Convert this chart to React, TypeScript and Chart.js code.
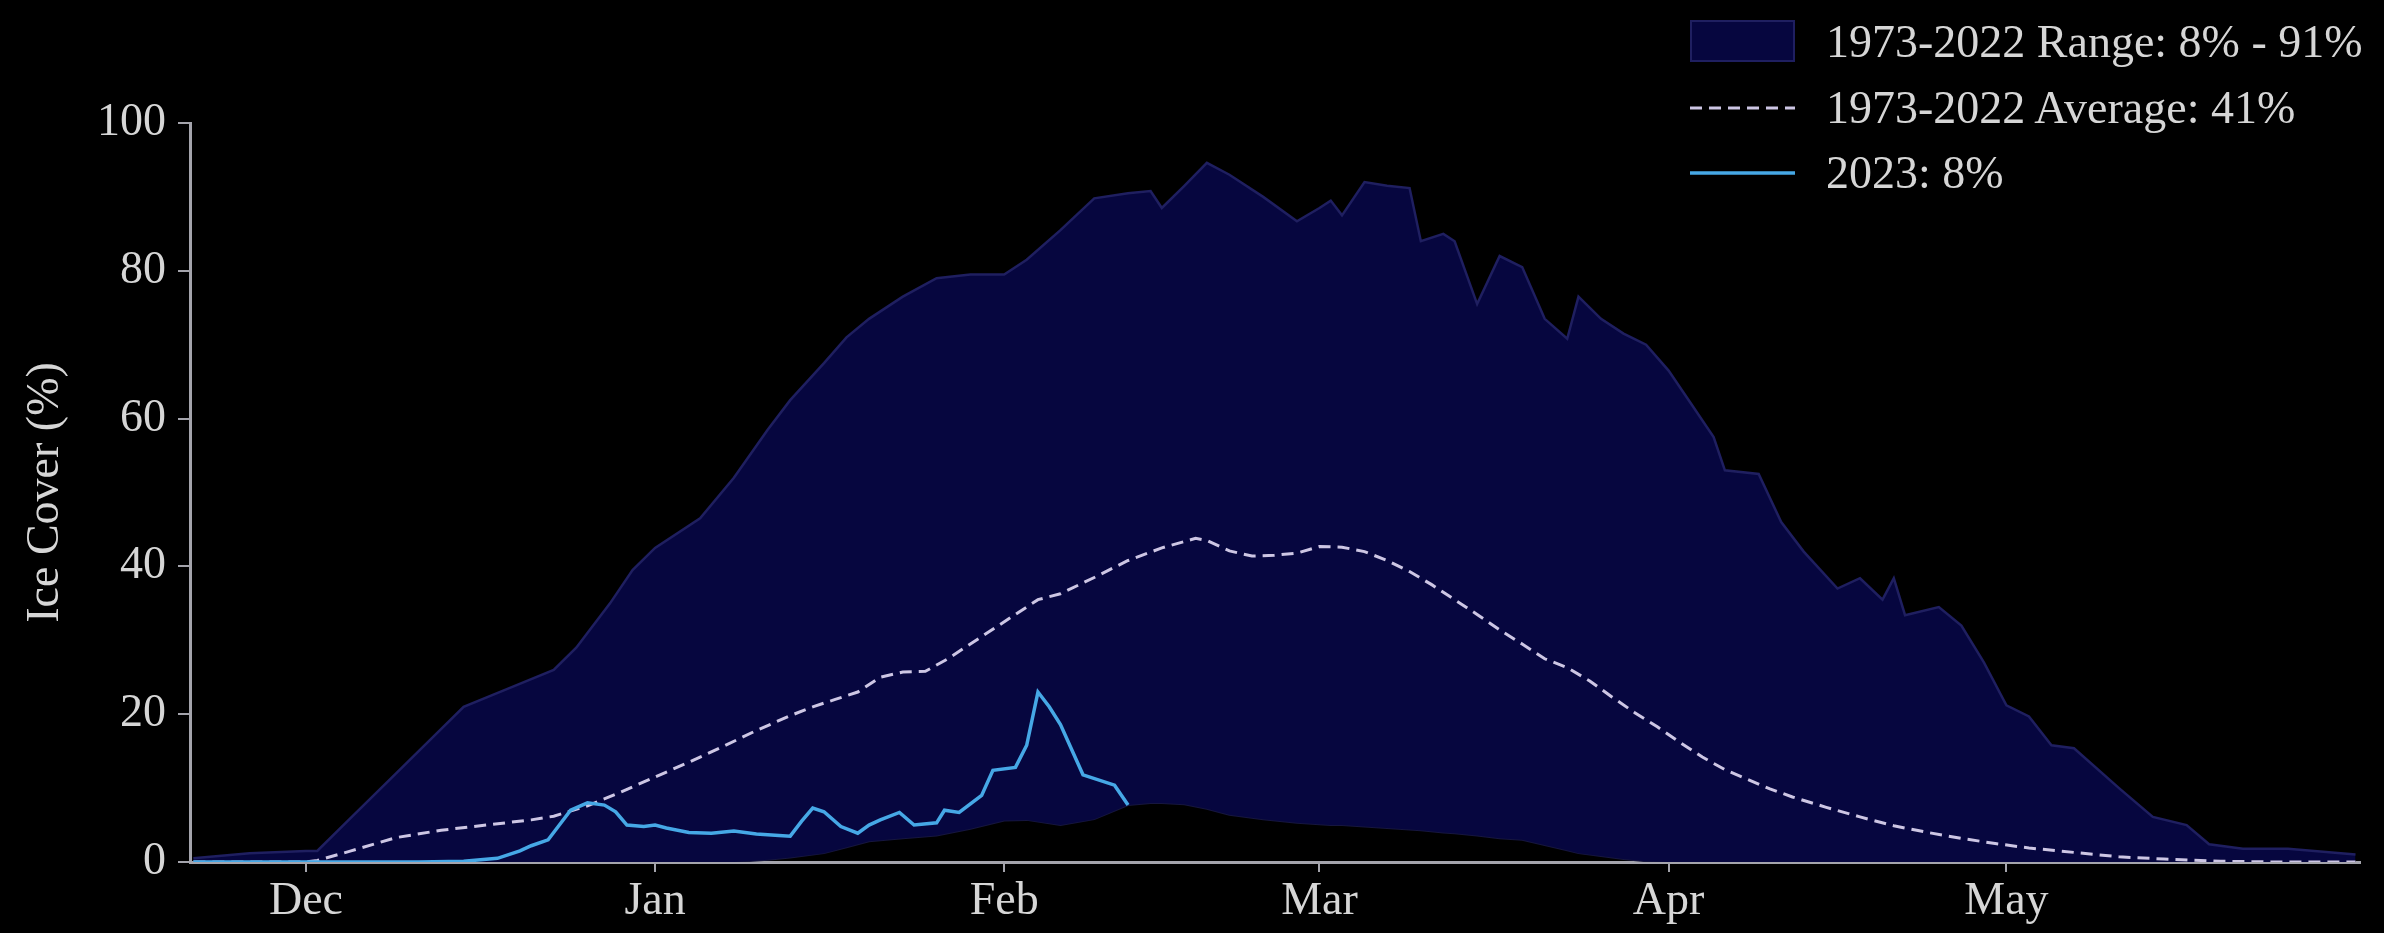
import { useEffect, useRef } from 'react';
import { Chart, registerables } from 'chart.js';

Chart.register(...registerables);

// days are counted from Dec 1 (Jan 1 = 31, Feb 1 = 62, Mar 1 = 90, Apr 1 = 121, May 1 = 151)
const monthTicks = [0, 31, 62, 90, 121, 151];
const monthLabels = ['Dec', 'Jan', 'Feb', 'Mar', 'Apr', 'May'];

const rangeDays = [
  -10, -5, 0, 1, 4, 8, 11, 14, 18, 22, 24, 27, 29, 31, 35, 38, 41, 43, 46, 48, 50, 53, 56, 59, 62, 64,
  67, 70, 73, 75, 76, 78, 80, 82, 85, 88, 90, 91, 92, 94, 96, 98, 99, 101, 102, 104, 106, 108, 110,
  112, 113, 115, 117, 119, 121, 123, 125, 126, 129, 131, 133, 136, 138, 140, 141, 142, 145, 147, 149,
  151, 153, 155, 157, 161, 164, 167, 169, 172, 176, 182,
];
const rangeUpper = [
  0.5, 1.2, 1.5, 1.5, 6, 12, 16.5, 21, 23.5, 26, 29, 35, 39.5, 42.5, 46.5, 52, 58.5, 62.5, 67.5, 71,
  73.5, 76.5, 79, 79.5, 79.5, 81.5, 85.5, 89.8, 90.5, 90.8, 88.5, 91.5, 94.6, 93, 90, 86.7, 88.5, 89.5,
  87.5, 92, 91.5, 91.2, 84, 85, 84, 75.5, 82, 80.5, 73.5, 70.8, 76.5, 73.5, 71.5, 70, 66.5, 62, 57.5,
  53, 52.5, 46, 42, 37, 38.4, 35.5, 38.4, 33.4, 34.5, 32, 27, 21.2, 19.7, 15.8, 15.4, 10, 6.1, 5, 2.4,
  1.8, 1.8, 1,
];
const rangeLower = [
  0, 0, 0, 0, 0, 0, 0, 0, 0, 0, 0, 0, 0, 0, 0, 0, 0.3, 0.6, 1.2, 2, 2.8, 3.2, 3.6, 4.5, 5.6, 5.7, 5,
  5.8, 7.7, 8, 8, 7.8, 7.2, 6.4, 5.8, 5.3, 5.1, 5, 5, 4.8, 4.6, 4.4, 4.3, 4, 3.9, 3.6, 3.2, 3, 2.3,
  1.6, 1.2, 0.8, 0.4, 0.1, 0, 0, 0, 0, 0, 0, 0, 0, 0, 0, 0, 0, 0, 0, 0, 0, 0, 0, 0, 0, 0, 0, 0, 0, 0, 0,
];

const avgDays = [
  -10, 0, 1, 4, 8, 12, 16, 20, 22, 25, 28, 31, 34, 37, 40, 43, 45, 47, 49, 51, 53, 55, 57, 60, 63, 65,
  67, 70, 73, 76, 79, 80, 82, 84, 86, 88, 90, 92, 94, 96, 98, 100, 102, 104, 106, 108, 110, 112, 114,
  116, 118, 120, 122, 124, 126, 128, 130, 132, 135, 138, 141, 144, 147, 150, 153, 157, 161, 165, 170,
  175, 182,
];
const avgValues = [
  0, 0, 0.2, 1.5, 3.3, 4.3, 5, 5.7, 6.2, 7.6, 9.5, 11.5, 13.5, 15.6, 17.8, 19.8, 21, 22, 23, 25, 25.7,
  25.8, 27.5, 30.5, 33.5, 35.5, 36.3, 38.5, 40.8, 42.5, 43.8, 43.5, 42.1, 41.4, 41.5, 41.8, 42.7, 42.6,
  42, 40.8, 39.3, 37.5, 35.5, 33.5, 31.4, 29.5, 27.5, 26.3, 24.5, 22.3, 20.2, 18.3, 16.2, 14.2, 12.5,
  11.2, 9.9, 8.8, 7.4, 6.1, 4.9, 4, 3.2, 2.5, 1.9, 1.3, 0.7, 0.4, 0.1, 0, 0,
];

const days2023 = [
  -10, 10, 14, 17, 19, 20, 21.5, 22.5, 23.5, 25, 26.5, 27.5, 28.5, 30, 31, 32, 34, 36, 38, 40, 42, 43,
  44, 45, 46, 47.5, 49, 50, 51, 52.7, 54, 56, 56.7, 58, 60, 61, 63, 64, 65, 66, 67, 69, 71.8, 73,
];
const values2023 = [
  0, 0, 0.1, 0.5, 1.5, 2.2, 3, 5, 7, 8, 7.7, 6.8, 5, 4.8, 5, 4.6, 4, 3.9, 4.2, 3.8, 3.6, 3.5, 5.5, 7.3,
  6.8, 4.8, 3.9, 5, 5.7, 6.7, 5, 5.3, 7, 6.7, 9, 12.4, 12.8, 15.8, 23, 21, 18.6, 11.8, 10.4, 7.7,
];

const legendLabels = ['1973-2022 Range: 8% - 91%', '1973-2022 Average: 41%', '2023: 8%'];

const FONT = '"Liberation Serif", "Times New Roman", serif';
const TEXT = '#d6d6d6';
const AXIS = '#a4a4ac';
const RANGE_FILL = '#06063f';
const RANGE_EDGE = '#1f1f60';
const AVG_COLOR = '#cdc6e4';
const LINE_2023 = '#46a8e6';

const pts = (xs: number[], ys: number[]) => xs.map((x, i) => ({ x, y: ys[i] }));

export default function App() {
  const canvasRef = useRef<HTMLCanvasElement>(null);

  useEffect(() => {
    if (!canvasRef.current) return;
    const chart = new Chart(canvasRef.current, {
      type: 'line',
      data: {
        datasets: [
          {
            label: 'lower',
            data: pts(rangeDays, rangeLower),
            borderColor: '#16163e',
            borderWidth: 2,
            pointRadius: 0,
            fill: false,
            order: 4,
          },
          {
            label: legendLabels[0],
            data: pts(rangeDays, rangeUpper),
            borderColor: RANGE_EDGE,
            backgroundColor: RANGE_FILL,
            borderWidth: 2.5,
            pointRadius: 0,
            fill: '-1',
            order: 3,
          },
          {
            label: legendLabels[1],
            data: pts(avgDays, avgValues),
            borderColor: AVG_COLOR,
            borderWidth: 3,
            borderDash: [12, 7],
            pointRadius: 0,
            fill: false,
            order: 2,
          },
          {
            label: legendLabels[2],
            data: pts(days2023, values2023),
            borderColor: LINE_2023,
            borderWidth: 3.5,
            pointRadius: 0,
            fill: false,
            order: 1,
          },
        ],
      },
      options: {
        responsive: false,
        animation: false,
        layout: { padding: { top: 123, right: 24, left: 0, bottom: 0 } },
        plugins: {
          legend: { display: false },
          tooltip: { enabled: false },
        },
        scales: {
          x: {
            type: 'linear',
            min: -10.3,
            max: 182.4,
            z: 1,
            afterFit: (scale) => {
              scale.height = 71;
            },
            afterBuildTicks: (scale) => {
              scale.ticks = monthTicks.map((v) => ({ value: v }));
            },
            border: { display: true, color: AXIS, width: 3 },
            grid: { drawOnChartArea: false, drawTicks: true, tickLength: 10, color: AXIS, lineWidth: 2 },
            ticks: {
              color: TEXT,
              padding: 2,
              maxRotation: 0,
              autoSkip: false,
              font: { family: FONT, size: 46 },
              callback: (value) => monthLabels[monthTicks.indexOf(Number(value))] ?? '',
            },
          },
          y: {
            min: 0,
            max: 100,
            z: 1,
            afterFit: (scale) => {
              scale.width = 190;
            },
            border: { display: true, color: AXIS, width: 3 },
            grid: { drawOnChartArea: false, drawTicks: true, tickLength: 12, color: AXIS, lineWidth: 2 },
            ticks: {
              stepSize: 20,
              color: TEXT,
              padding: 12,
              font: { family: FONT, size: 46 },
            },
            title: {
              display: true,
              text: 'Ice Cover (%)',
              color: TEXT,
              font: { family: FONT, size: 46 },
              padding: { top: 18, bottom: 0 },
            },
          },
        },
      },
    });
    return () => chart.destroy();
  }, []);

  const legendText: React.CSSProperties = {
    position: 'absolute',
    left: 1826,
    height: 56,
    lineHeight: '56px',
    fontFamily: FONT,
    fontSize: 46,
    color: TEXT,
    whiteSpace: 'nowrap',
  };

  return (
    <div style={{ position: 'absolute', left: 0, top: 0, width: 2384, height: 933, background: '#000', overflow: 'hidden' }}>
      <canvas ref={canvasRef} width={2384} height={933} style={{ display: 'block' }} />
      <div
        style={{
          position: 'absolute',
          left: 1690,
          top: 20,
          width: 105,
          height: 42,
          boxSizing: 'border-box',
          background: RANGE_FILL,
          border: `2px solid ${RANGE_EDGE}`,
        }}
      />
      <svg style={{ position: 'absolute', left: 1690, top: 100 }} width={105} height={16}>
        <line x1={0} y1={8} x2={105} y2={8} stroke={AVG_COLOR} strokeWidth={3} strokeDasharray="12 7" />
      </svg>
      <svg style={{ position: 'absolute', left: 1690, top: 165 }} width={105} height={16}>
        <line x1={0} y1={8} x2={105} y2={8} stroke={LINE_2023} strokeWidth={3.5} />
      </svg>
      <div style={{ ...legendText, top: 14 }}>{legendLabels[0]}</div>
      <div style={{ ...legendText, top: 80 }}>{legendLabels[1]}</div>
      <div style={{ ...legendText, top: 145 }}>{legendLabels[2]}</div>
    </div>
  );
}
